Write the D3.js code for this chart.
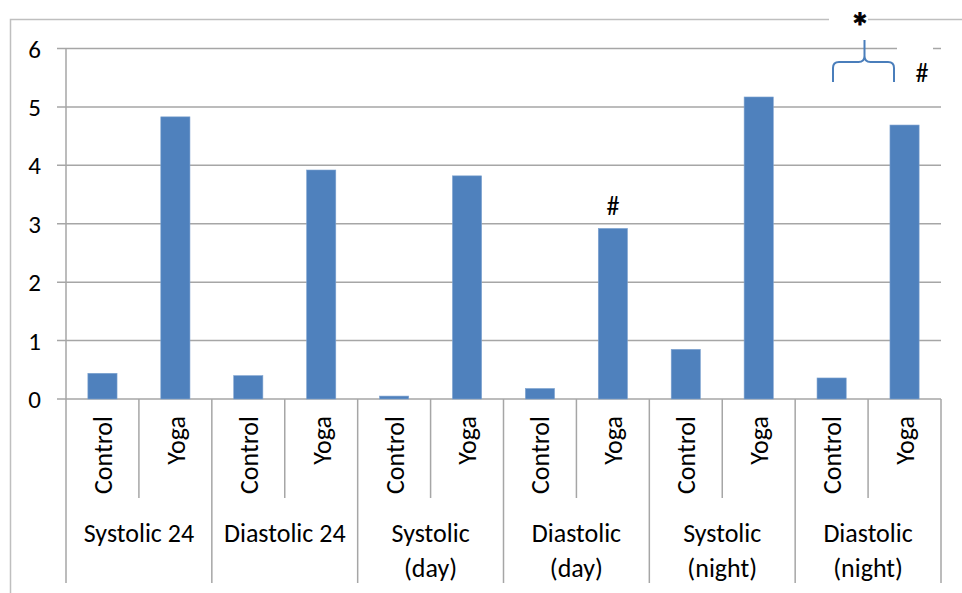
<!DOCTYPE html>
<html><head><meta charset="utf-8">
<script src="https://cdn.jsdelivr.net/npm/d3@7"></script>
<style>
html,body{margin:0;padding:0;background:#fff;}
text{font-family:Carlito,Lato,"Open Sans",sans-serif;fill:#000;}
</style></head>
<body><svg id="c" width="962" height="593"></svg>
<script>
const groups = [["Systolic 24"],["Diastolic 24"],["Systolic","(day)"],["Diastolic","(day)"],["Systolic","(night)"],["Diastolic","(night)"]];
const subgroups = ["Control","Yoga"];
const controlValues = [0.44,0.40,0.05,0.18,0.85,0.36];
const yogaValues = [4.83,3.92,3.82,2.92,5.17,4.69];
const yTicks = [0,1,2,3,4,5,6];

const svg = d3.select("#c");
const L=66,R=941,T=48.5,B=399,BOT=583,SUBBOT=498;
const gridC="#a6a6a6";
const groupKeys = groups.map(g=>g.join(" "));
const x0 = d3.scaleBand().domain(groupKeys).range([L,R]);
const x1 = d3.scaleBand().domain(subgroups).range([0,x0.bandwidth()]).paddingInner(0.6).paddingOuter(0.3);
const y = d3.scaleLinear().domain([0,6]).range([B,T]);

// outer chart border
svg.append("path").attr("d","M10.5,593 V19.5 H962").attr("fill","none").attr("stroke","#bfbfbf").attr("stroke-width",1.5);

// gridlines + ticks
yTicks.forEach(t=>{
  svg.append("line").attr("x1",57).attr("x2",R).attr("y1",y(t)).attr("y2",y(t)).attr("stroke",gridC).attr("stroke-width",1.5);
  svg.append("text").attr("x",41).attr("y",y(t)).attr("dy","0.36em").attr("text-anchor","end").attr("font-size",25).text(t);
});
// y axis line
svg.append("line").attr("x1",L).attr("x2",L).attr("y1",T).attr("y2",BOT).attr("stroke",gridC).attr("stroke-width",1.5);

// category separators
groupKeys.forEach((g,i)=>{
  const gx = x0(g);
  svg.append("line").attr("x1",gx+x0.bandwidth()/2).attr("x2",gx+x0.bandwidth()/2).attr("y1",B).attr("y2",SUBBOT).attr("stroke",gridC).attr("stroke-width",1.5);
  svg.append("line").attr("x1",gx+x0.bandwidth()).attr("x2",gx+x0.bandwidth()).attr("y1",B).attr("y2",BOT).attr("stroke",gridC).attr("stroke-width",1.5);
});

// bars
const data = [];
groupKeys.forEach((g,i)=>{
  data.push({g,s:"Control",v:controlValues[i]});
  data.push({g,s:"Yoga",v:yogaValues[i]});
});
svg.append("g").selectAll("rect").data(data).join("rect")
  .attr("x",d=>x0(d.g)+x1(d.s)).attr("width",x1.bandwidth())
  .attr("y",d=>y(d.v)).attr("height",d=>B-y(d.v))
  .attr("fill","#4f81bd").attr("stroke","#7fa3d0").attr("stroke-width",0.6);

// rotated subgroup labels
data.forEach(d=>{
  const cx = x0(d.g)+x1(d.s)+x1.bandwidth()/2;
  svg.append("text").attr("transform",`translate(${cx},416) rotate(-90)`)
    .attr("text-anchor","end").attr("dy","0.36em").attr("font-size",26).text(d.s);
});
// group labels
groups.forEach((g,i)=>{
  const cx = x0(groupKeys[i])+x0.bandwidth()/2;
  g.forEach((line,j)=>{
    svg.append("text").attr("x",cx).attr("y",533+j*35).attr("dy","0.36em").attr("text-anchor","middle").attr("font-size",26).text(line);
  });
});

// annotations
svg.append("rect").attr("x",829).attr("y",12).attr("width",39).attr("height",16).attr("fill","#fff");
svg.append("rect").attr("x",897).attr("y",44).attr("width",36).attr("height",10).attr("fill","#fff");
svg.append("text").attr("x",860).attr("y",40).attr("text-anchor","middle").attr("font-size",38).attr("font-weight","bold")
  .attr("stroke","#000").attr("stroke-width",0.8).text("*");
const bx1=833,bx2=894,bmid=(bx1+bx2)/2+1,by=62,btop=40,bend=82,r=6;
svg.append("path").attr("d",`M${bx1},${bend} V${by+r} Q${bx1},${by} ${bx1+r},${by} H${bmid-r} Q${bmid},${by} ${bmid},${by-r} V${btop} M${bmid},${by-r} Q${bmid},${by} ${bmid+r},${by} H${bx2-r} Q${bx2},${by} ${bx2},${by+r} V${bend}`)
  .attr("fill","none").attr("stroke","#4a7ebb").attr("stroke-width",2);
svg.append("text").attr("x",922).attr("y",73).attr("dy","0.36em").attr("text-anchor","middle").attr("font-size",26).text("#");
svg.append("text").attr("x",x0(groupKeys[3])+x1("Yoga")+x1.bandwidth()/2).attr("y",206).attr("dy","0.36em").attr("text-anchor","middle").attr("font-size",26).text("#");
</script></body></html>
